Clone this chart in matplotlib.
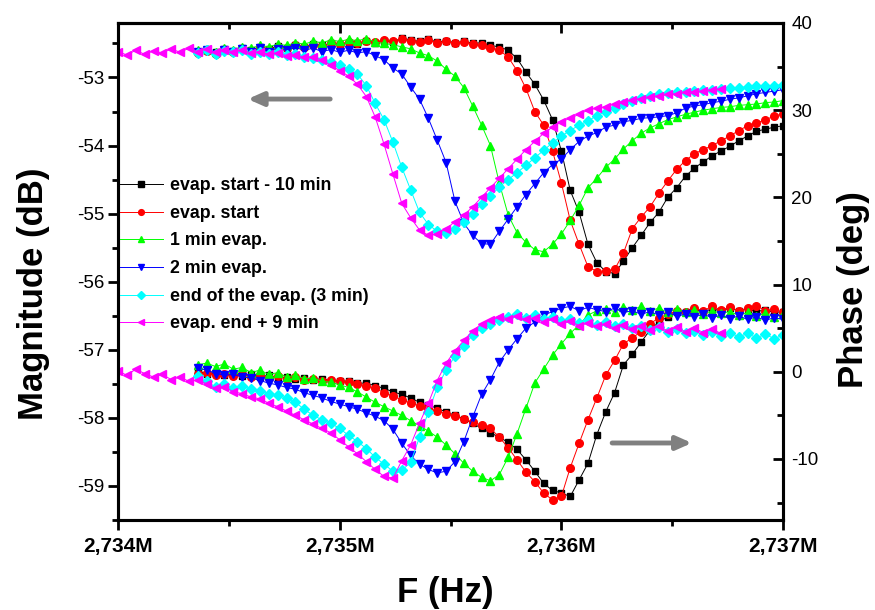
import numpy as np
import matplotlib.pyplot as plt
from matplotlib.ticker import MultipleLocator, FuncFormatter

plt.rcParams['font.family'] = ['Liberation Sans', 'DejaVu Sans']
plt.rcParams['axes.unicode_minus'] = False

# frequency sweep (kHz), 2734.00 ... 2737.00 in 0.04 kHz steps
f_start, f_step, n_pts = 2734.0, 0.04, 76
freq_khz = np.round(f_start + f_step * np.arange(n_pts), 2)
freq_main = freq_khz[9:]      # first five runs start at 2734.36 kHz
freq_last = freq_khz[:69]     # last run: 2734.00 ... 2736.72 kHz

labels = ["evap. start - 10 min", "evap. start", "1 min evap.", "2 min evap.",
          "end of the evap. (3 min)", "evap. end + 9 min"]
colors = ["black", "#FF0000", "#00FF00", "#0000FF", "#00FFFF", "#FF00FF"]
markers = ["s", "o", "^", "v", "D", "<"]
msizes = [5, 5.5, 6, 6, 5, 6]

# magnitude (dB)
mag_black = [-52.62, -52.60, -52.63, -52.58, -52.61, -52.57, -52.60, -52.55, -52.58, -52.54,
             -52.56, -52.52, -52.55, -52.51, -52.53, -52.50, -52.52, -52.49, -52.51, -52.47,
             -52.49, -52.46, -52.48, -52.42, -52.45, -52.47, -52.44, -52.48, -52.46, -52.49,
             -52.47, -52.50, -52.49, -52.53, -52.55,
             -52.60, -52.72, -52.92, -53.10, -53.33, -53.62, -54.08, -54.66, -54.98, -55.45,
             -55.72, -55.85, -55.88, -55.70, -55.50, -55.32, -55.13, -54.98, -54.76, -54.62,
             -54.45, -54.33, -54.24, -54.15, -54.08, -54.01, -53.93, -53.86, -53.79, -53.76,
             -53.73, -53.71]
mag_red = [-52.64, -52.61, -52.66, -52.60, -52.63, -52.58, -52.62, -52.57, -52.59, -52.55,
           -52.57, -52.53, -52.55, -52.52, -52.54, -52.50, -52.51, -52.48, -52.50, -52.46,
           -52.48, -52.45, -52.47, -52.44, -52.46, -52.48, -52.45, -52.49, -52.47, -52.50,
           -52.48, -52.51, -52.53, -52.56, -52.60,
           -52.70, -52.90, -53.16, -53.50, -53.70, -54.08, -54.55, -55.10, -55.45, -55.78,
           -55.85, -55.84, -55.82, -55.58, -55.22, -55.05, -54.90, -54.70, -54.52, -54.35,
           -54.22, -54.12, -54.06, -54.00, -53.93, -53.86, -53.78, -53.71, -53.67, -53.62,
           -53.57, -53.53]
mag_green = [-52.60, -52.58, -52.62, -52.56, -52.59, -52.55, -52.57, -52.53, -52.55, -52.51,
             -52.53, -52.49, -52.51, -52.47, -52.49, -52.45, -52.47, -52.44, -52.46, -52.43,
             -52.48, -52.50, -52.52, -52.55, -52.58,
             -52.64, -52.68, -52.76, -52.88, -52.98, -53.15, -53.42, -53.70, -54.00, -54.55,
             -55.02, -55.28, -55.42, -55.53, -55.56, -55.45, -55.30, -55.10, -54.88, -54.62,
             -54.48, -54.32, -54.20, -54.05, -53.93, -53.82, -53.74, -53.68, -53.62, -53.58,
             -53.54, -53.51, -53.48, -53.46, -53.44, -53.43, -53.41, -53.40, -53.39, -53.37,
             -53.36, -53.34]
mag_blue = [-52.63, -52.60, -52.65, -52.59, -52.62, -52.58, -52.63, -52.57, -52.62, -52.58,
            -52.60, -52.56, -52.60, -52.57, -52.62, -52.59, -52.63,
            -52.60, -52.64, -52.62, -52.68, -52.74, -52.86, -52.95, -53.14, -53.32, -53.60,
            -53.92, -54.25, -54.82, -55.14, -55.32, -55.44, -55.45, -55.26, -55.08, -54.90,
            -54.72, -54.56, -54.40, -54.28, -54.20, -54.06, -53.94, -53.86, -53.81, -53.73,
            -53.70, -53.65, -53.63, -53.60, -53.59, -53.58, -53.56, -53.52, -53.45, -53.42,
            -53.40, -53.37, -53.35, -53.32, -53.30, -53.27, -53.24, -53.22, -53.20, -53.18]
mag_cyan = [-52.64, -52.60, -52.66, -52.61, -52.63, -52.60, -52.65, -52.62, -52.66, -52.63,
            -52.67, -52.65,
            -52.70, -52.72, -52.75, -52.78, -52.82, -52.88, -52.95, -53.12, -53.38, -53.62,
            -53.95, -54.32, -54.65, -54.98, -55.16, -55.26, -55.28, -55.23, -55.13, -55.00,
            -54.86, -54.74, -54.61, -54.50, -54.40, -54.29, -54.18, -54.07, -53.96, -53.86,
            -53.78, -53.70, -53.64, -53.56, -53.50, -53.45, -53.39, -53.34, -53.30, -53.27,
            -53.25, -53.23, -53.22, -53.21, -53.20, -53.19, -53.18, -53.17, -53.16, -53.15,
            -53.14, -53.13, -53.13, -53.12, -53.11]
mag_magenta = [-52.62, -52.67, -52.60, -52.66, -52.61, -52.64, -52.58, -52.63, -52.57, -52.62,
               -52.58, -52.63, -52.59, -52.62, -52.60, -52.64, -52.62, -52.66, -52.64, -52.68,
               -52.67, -52.70, -52.70, -52.74, -52.82, -52.90, -52.98, -53.10, -53.28, -53.58,
               -53.98, -54.42, -54.85, -55.06, -55.24, -55.32, -55.30, -55.22, -55.12, -55.02,
               -54.90, -54.76, -54.62, -54.48, -54.34, -54.20, -54.06, -53.94, -53.82, -53.73,
               -53.65, -53.60, -53.54, -53.48, -53.45, -53.43, -53.39, -53.36, -53.33, -53.31,
               -53.29, -53.27, -53.25, -53.24, -53.22, -53.21, -53.20, -53.18, -53.17]

# phase (deg)
ph_black = [0.2, -0.3, -0.1, -0.4, -0.2, -0.5, -0.3, -0.6, -0.4, -0.7,
            -0.6, -0.8, -0.7, -0.9, -0.8, -1.0, -1.0, -1.1, -1.3, -1.3,
            -1.6, -1.9, -2.3, -2.6, -3.0, -3.5, -3.8, -4.2, -4.6, -5.0,
            -5.4, -5.9, -6.5, -7.0, -7.5,
            -8.1, -8.9, -10.1, -11.4, -12.8, -13.6, -13.9, -14.3, -12.4, -10.5,
            -7.2, -4.6, -2.4, 0.8, 2.0, 3.4, 4.8, 5.7, 6.3, 6.8,
            6.9, 7.1, 6.9, 7.2, 7.0, 7.3, 7.0, 7.2, 6.9, 7.1, 6.8, 6.9]
ph_red = [-0.3, -0.1, -0.4, -0.2, -0.5, -0.3, -0.6, -0.4, -0.7, -0.5,
          -0.8, -0.6, -0.9, -0.8, -1.0, -0.9, -1.1, -1.2, -1.4, -1.6,
          -1.9, -2.4, -2.8, -3.2, -3.6, -3.9, -4.2, -4.5, -4.8, -5.1,
          -5.4, -5.8, -6.1, -6.5, -7.5,
          -8.7, -10.1, -11.5, -12.6, -13.9, -14.7, -14.3, -11.0, -8.2, -5.5,
          -3.0, -0.4, 1.3, 3.2, 3.9, 4.6, 5.5, 6.2, 6.6, 7.0,
          6.8, 7.3, 7.0, 7.5, 7.1, 7.4, 7.0, 7.3, 7.6, 7.0, 7.2, 6.8]
ph_green = [0.8, 1.0, 0.6, 0.9, 0.3, 0.5, -0.1, 0.2, -0.3, -0.1,
            -0.6, -0.4, -0.8, -0.7, -1.1, -1.2, -1.5, -1.8, -2.3, -2.9,
            -3.5, -4.0, -4.5, -5.0, -5.6, -6.2, -6.8, -7.5, -8.4, -9.4,
            -10.5, -11.4, -12.1, -12.5, -11.8,
            -9.8, -7.1, -4.2, -1.3, 0.3, 1.9, 3.2, 4.4, 5.4, 6.5,
            7.0, 7.2, 6.9, 7.4, 7.1, 7.5, 7.0, 7.3, 6.8, 7.2,
            6.9, 7.1, 6.6, 7.0, 6.7, 6.9, 6.5, 6.8, 6.4, 6.7, 6.3, 6.6]
ph_blue = [0.4, 0.2, -0.2, -0.4, -0.3, -0.6, -0.7, -1.0, -1.3, -1.5,
           -1.8, -2.0, -2.4, -2.7, -3.0, -3.4, -3.7, -4.0, -4.3, -4.7,
           -5.1, -5.6, -6.6, -8.2, -9.6, -10.6, -11.2, -11.6, -11.4, -10.3,
           -8.0, -5.2, -2.6, -0.9, 1.1,
           2.5, 3.8, 5.0, 5.7, 6.5, 6.9, 7.3, 7.5, 7.0, 7.4,
           7.1, 6.9, 7.3, 6.8, 7.0, 6.6, 6.9, 6.5, 6.8, 6.4,
           6.6, 6.3, 6.6, 6.2, 6.5, 6.1, 6.4, 6.0, 6.3, 5.9, 6.2, 6.0]
ph_cyan = [-0.5, -1.0, -1.8, -1.4, -1.9, -1.6, -2.0, -2.2, -2.5, -2.7,
           -3.0, -3.5, -4.3, -5.0, -5.5, -5.9, -6.5, -7.3, -8.0, -8.8,
           -9.8, -10.6, -11.4, -11.3, -10.4, -7.5, -4.6, -1.8, 0.2, 1.8,
           3.0, 4.2, 5.0, 5.5, 5.9,
           6.3, 6.6, 6.2, 6.5, 6.0, 6.3, 5.8, 6.1, 5.6, 5.9,
           5.4, 5.7, 5.2, 5.5, 5.0, 5.3, 4.8, 5.1, 4.6, 4.9,
           4.4, 4.7, 4.2, 4.6, 4.1, 4.5, 4.0, 4.4, 3.9, 4.3, 3.8, 4.2]
ph_magenta = [0.1, -0.4, 0.3, -0.2, -0.6, -0.3, -0.9, -0.6, -1.1, -0.9,
              -1.4, -1.9, -1.7, -2.3, -2.5, -2.9, -3.1, -3.6, -4.0, -4.5,
              -5.0, -5.5, -6.0, -6.5, -7.0, -7.8, -8.6, -9.4, -10.3, -11.2,
              -12.0, -12.2, -10.2, -8.4, -5.9, -3.6, -1.0, 1.0, 2.4, 3.6,
              4.7, 5.5, 5.9, 6.3, 6.1, 6.4, 6.0, 6.2, 5.7, 6.0,
              5.5, 5.8, 5.3, 5.6, 5.2, 5.5, 5.0, 5.4, 4.9, 5.3,
              4.8, 5.2, 4.7, 5.1, 4.6, 5.0, 4.5, 4.9, 4.4]

mags = [mag_black, mag_red, mag_green, mag_blue, mag_cyan, mag_magenta]
phases = [ph_black, ph_red, ph_green, ph_blue, ph_cyan, ph_magenta]
freqs = [freq_main] * 5 + [freq_last]

fig = plt.figure(figsize=(8.75, 6.1), dpi=100)
ax = fig.add_axes([0.1349, 0.1475, 0.76, 0.8148])
ax2 = ax.twinx()

for f, m, p, lab, c, mk, ms in zip(freqs, mags, phases, labels, colors, markers, msizes):
    ax.plot(f, m, color=c, marker=mk, ms=ms, lw=0.7, mec=c, label=lab)
    ax2.plot(f, p, color=c, marker=mk, ms=ms, lw=0.7, mec=c)

# axes ranges and ticks
ax.set_xlim(2734, 2737)
ax.set_ylim(-59.5, -52.2)
ax2.set_ylim(-17, 40)
ax.xaxis.set_major_locator(MultipleLocator(1))
ax.xaxis.set_minor_locator(MultipleLocator(0.5))
ax.yaxis.set_major_locator(MultipleLocator(1))
ax.yaxis.set_minor_locator(MultipleLocator(0.5))
ax2.yaxis.set_major_locator(MultipleLocator(10))
ax2.yaxis.set_minor_locator(MultipleLocator(5))
ax.xaxis.set_major_formatter(FuncFormatter(lambda v, p: f"{v / 1000:.3f}".replace('.', ',') + 'M'))

ax.tick_params(axis='x', which='both', direction='out', top=False, pad=5)
ax.tick_params(axis='y', which='both', direction='out', right=False, pad=3)
ax2.tick_params(axis='y', which='both', direction='in', pad=6)
for a in (ax, ax2):
    a.tick_params(which='major', length=7, width=2)
    a.tick_params(which='minor', length=4, width=2)
    for s in a.spines.values():
        s.set_linewidth(2.2)
for t in ax.get_xticklabels():
    t.set_fontsize(15)
    t.set_fontweight('bold')
for t in ax.get_yticklabels() + ax2.get_yticklabels():
    t.set_fontsize(13.5)

top = ax.secondary_xaxis('top')
top.xaxis.set_major_locator(MultipleLocator(1))
top.xaxis.set_minor_locator(MultipleLocator(0.5))
top.tick_params(which='both', direction='in', labeltop=False, width=2)
top.tick_params(which='major', length=7)
top.tick_params(which='minor', length=4)
top.spines['top'].set_linewidth(2.2)

ax.set_xlabel('F (Hz)', fontsize=25, fontweight='bold')
ax.xaxis.set_label_coords(0.492, -0.112)
ax.set_ylabel('Magnitude (dB)', fontsize=25, fontweight='bold')
ax.yaxis.set_label_coords(-0.102, 0.455)
ax2.set_ylabel('Phase (deg)', fontsize=25, fontweight='bold')
ax2.yaxis.set_label_coords(1.081, 0.463)

ax.legend(loc='upper left', bbox_to_anchor=(0.003, 0.69), frameon=False,
          prop={'size': 12.8, 'weight': 'bold'}, handlelength=2.4, handletextpad=0.4,
          labelspacing=0.6, borderaxespad=0, borderpad=0, markerscale=0.75)

arrow = dict(arrowstyle='-|>,head_length=0.45,head_width=0.2', color='#808080',
             lw=3.5, mutation_scale=20, shrinkA=0, shrinkB=0)
ax.annotate('', xy=(0.195, 0.847), xytext=(0.319, 0.847),
            xycoords='axes fraction', textcoords='axes fraction', arrowprops=arrow)
ax.annotate('', xy=(0.863, 0.155), xytext=(0.743, 0.155),
            xycoords='axes fraction', textcoords='axes fraction', arrowprops=arrow)

fig.savefig('out.png', dpi=100)
